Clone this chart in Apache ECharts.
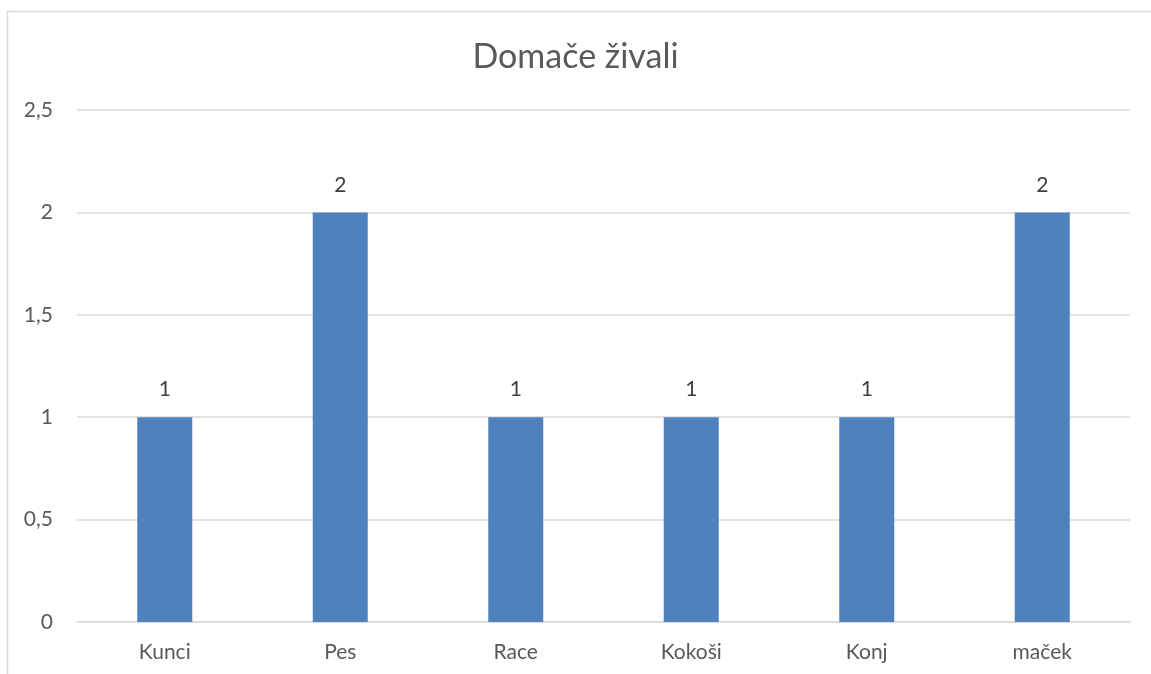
<!DOCTYPE html>
<html><head><meta charset="utf-8">
<script src="https://cdn.jsdelivr.net/npm/echarts@6/dist/echarts.min.js"></script>
<style>html,body{margin:0;padding:0;background:#fff}#c{width:1151px;height:674px}</style>
</head><body><div id="c"></div>
<script>
const title = 'Domače živali';
const categories = ['Kunci', 'Pes', 'Race', 'Kokoši', 'Konj', 'maček'];
const values = [1, 2, 1, 1, 1, 2];
const yTicks = [0, 0.5, 1, 1.5, 2, 2.5];

const chart = echarts.init(document.getElementById('c'), null, {renderer: 'canvas'});
const FONT = 'Lato';
chart.setOption({
  animation: false,
  backgroundColor: '#fff',
  title: {
    text: title, left: 'center', top: 35,
    textStyle: {fontFamily: FONT, fontSize: 34, fontWeight: 'normal', color: '#595959'}
  },
  graphic: [{
    type: 'rect', shape: {x: 7.5, y: 11.5, width: 1200, height: 700},
    style: {fill: 'none', stroke: '#d9d9d9', lineWidth: 1.5}, silent: true, z: -1
  }],
  grid: {left: 77, right: 21, top: 110, bottom: 52, containLabel: false},
  xAxis: {
    type: 'category', data: categories,
    axisLine: {show: true, lineStyle: {color: '#d9d9d9', width: 1.5}},
    axisTick: {show: false},
    axisLabel: {fontFamily: FONT, fontSize: 21, color: '#595959', margin: 20}
  },
  yAxis: {
    type: 'value', min: yTicks[0], max: yTicks[yTicks.length - 1], interval: 0.5,
    axisLine: {show: false}, axisTick: {show: false},
    splitLine: {lineStyle: {color: '#d9d9d9', width: 1.5}},
    axisLabel: {fontFamily: FONT, fontSize: 21, color: '#595959', margin: 24,
      formatter: v => String(v).replace('.', ',')}
  },
  series: [{
    type: 'bar', data: values, barWidth: 55,
    itemStyle: {color: '#4f81bd'},
    label: {show: true, position: 'top', distance: 17, fontFamily: FONT, fontSize: 21, color: '#404040'}
  }]
});
</script></body></html>
